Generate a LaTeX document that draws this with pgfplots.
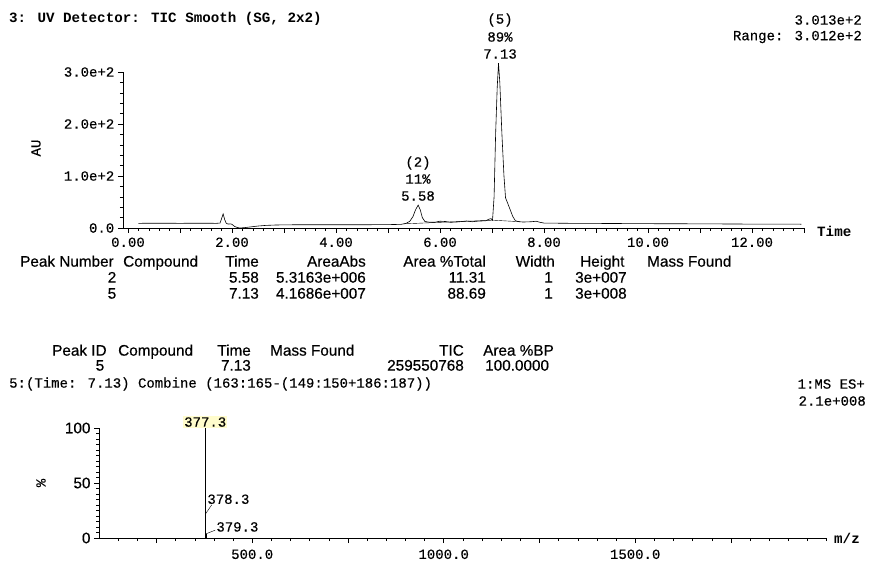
\documentclass[border=0pt]{standalone}
\usepackage{pgfplots}
\pgfplotsset{compat=1.18}
\usepackage{fontspec}
\setmainfont{Liberation Sans}
\newfontfamily\cour{Liberation Mono}[FakeBold=0.3]
\newfontfamily\courb{Liberation Mono Bold}
\newfontfamily\tfam{Liberation Sans}[FakeBold=0.4]
\newcommand{\cf}{\cour\fontsize{14}{16}\selectfont}
\newcommand{\cfb}{\courb\fontsize{14.2}{17}\selectfont}
\newcommand{\tf}{\tfam\fontsize{15.3}{17}\selectfont}
\newcommand{\T}[3]{\node[anchor=#1,inner sep=0pt,font=\tf] at #2 {#3};}
\newcommand{\C}[3]{\node[anchor=#1,inner sep=0pt,font=\cf] at #2 {#3};}
\begin{document}
\begin{tikzpicture}[x=1pt,y=1pt]
\path[use as bounding box] (0,0) rectangle (883,560);
% ---------------- UV chromatogram ----------------
\begin{axis}[
  at={(122.8pt,332pt)}, anchor=south west,
  width=681.2pt, height=156pt, scale only axis,
  xmin=-0.1, xmax=13, ymin=0, ymax=300,
  axis x line=bottom, axis y line=left,
  axis line style={-, line width=0.6pt},
  clip=false,
  xtick={0,1,...,13},
  xticklabels={0.00,,2.00,,4.00,,6.00,,8.00,,10.00,,12.00,},
  minor xtick={0,0.2,...,13},
  ytick={0,100,200,300},
  yticklabels={0.0,1.0e+2,2.0e+2,3.0e+2},
  minor ytick={20,40,...,280},
  tick align=outside,
  major tick length=5pt, minor tick length=3pt,
  every tick/.style={black, line width=0.5pt},
  ticklabel style={font=\cf},
  xticklabel style={yshift=-1pt},
]
\addplot[black, line width=0.6pt] coordinates {
(0.20,9) (0.6,9.2) (1.0,9.0) (1.4,9.2) (1.70,9.0) (1.77,9.5) (1.80,18) (1.83,27)
(1.86,16) (1.89,9) (1.93,7.5) (1.97,8) (2.00,7) (2.05,3) (2.10,1) (2.15,0)
(2.25,0.8) (2.35,2) (2.50,3.8) (2.65,5) (2.85,5.8) (3.2,6.2) (4.0,6.2) (4.6,6.3)
(5.0,6.5) (5.25,7) (5.35,9) (5.42,13) (5.48,22) (5.53,35) (5.58,44) (5.62,35)
(5.66,20) (5.71,12.5) (5.80,11) (5.90,11) (6.00,13) (6.10,12.5) (6.20,11) (6.32,11.5)
(6.42,12.5) (6.51,13.5) (6.62,12) (6.70,13) (6.80,13.5) (6.88,14) (6.94,17) (6.98,18)
(7.01,15) (7.04,60) (7.07,182) (7.10,270) (7.125,317) (7.15,280) (7.19,182) (7.23,100)
(7.26,58) (7.30,48) (7.35,35) (7.40,22) (7.45,14) (7.52,12) (7.60,11.5) (7.75,12)
(7.85,13) (7.92,11) (8.0,9.5) (8.5,9) (9.0,8.8) (10.0,8.3) (11.0,8) (12.0,7.5) (12.95,7.3)
};
\addplot[black, line width=0.4pt] coordinates {(5.30,8) (7.02,15) (7.55,12)};
\end{axis}
% texts of the top part
\node[anchor=west,inner sep=0pt,font=\cfb] at (9,541) {3: UV Detector: TIC Smooth (SG, 2x2)};
\C{east}{(862,540)}{3.013e+2}
\C{east}{(862,523)}{Range: 3.012e+2}
\C{center}{(500,540)}{(5)}
\C{center}{(500,523)}{89\%}
\C{center}{(500,506)}{7.13}
\C{center}{(418,397)}{(2)}
\C{center}{(418,381)}{11\%}
\C{center}{(418,364)}{5.58}
\node[anchor=west,inner sep=0pt,font=\cfb] at (817,329) {Time};
\node[rotate=90,inner sep=0pt,font=\cf] at (36,412) {AU};
% table 1
\T{mid west}{(20,296)}{Peak Number}
\T{mid west}{(123,296)}{Compound}
\T{mid east}{(259,296)}{Time}
\T{mid east}{(366,296)}{AreaAbs}
\T{mid east}{(486,296)}{Area \%Total}
\T{mid east}{(555,296)}{Width}
\T{mid west}{(580,296)}{Height}
\T{mid west}{(647,296)}{Mass Found}
\T{mid}{(112,280)}{2}
\T{mid east}{(259,280)}{5.58}
\T{mid east}{(366,280)}{5.3163e+006}
\T{mid east}{(486,280)}{11.31}
\T{mid east}{(553,280)}{1}
\T{mid west}{(575,280)}{3e+007}
\T{mid}{(112,264)}{5}
\T{mid east}{(259,264)}{7.13}
\T{mid east}{(366,264)}{4.1686e+007}
\T{mid east}{(486,264)}{88.69}
\T{mid east}{(553,264)}{1}
\T{mid west}{(575,264)}{3e+008}
% table 2
\T{mid west}{(52,207)}{Peak ID}
\T{mid west}{(118,207)}{Compound}
\T{mid east}{(251,207)}{Time}
\T{mid west}{(270,207)}{Mass Found}
\T{mid east}{(464,207)}{TIC}
\T{mid west}{(483,207)}{Area \%BP}
\T{mid}{(100,192)}{5}
\T{mid east}{(251,192)}{7.13}
\T{mid east}{(464,192)}{259550768}
\T{mid west}{(485,192)}{100.0000}
\C{west}{(9,176)}{5:(Time: 7.13) Combine (163:165-(149:150+186:187))}
\C{east}{(865,176)}{1:MS ES+}
\C{east}{(866,159)}{2.1e+008}
% ---------------- MS spectrum ----------------
\begin{axis}[
  at={(99pt,22pt)}, anchor=south west,
  width=727.7pt, height=110pt, scale only axis,
  xmin=100, xmax=2000, ymin=0, ymax=100,
  axis x line=bottom, axis y line=left,
  axis line style={-, line width=0.6pt},
  clip=false,
  xtick={250,500,...,1750},
  xticklabels={,500.0,,1000.0,,1500.0,},
  minor xtick={150,200,...,2000},
  ytick={0,50,100}, yticklabels={0,50,100},
  minor ytick={5,10,...,95},
  tick align=outside,
  major tick length=5pt, minor tick length=3pt,
  every tick/.style={black, line width=0.5pt},
  xticklabel style={font=\cf, yshift=-3pt},
  yticklabel style={font=\tf},
]
\addplot[ycomb, black, line width=0.8pt] coordinates {(377.3,100) (378.3,21.5) (379.3,3.5)};
\node[anchor=south, inner sep=1pt, fill=yellow!20, font=\cf] at (axis cs:377.3,100) {377.3};
\draw[line width=0.4pt] (axis cs:377.3,21.5) -- ++(6.5pt,9.5pt);
\node[anchor=base west, inner sep=0pt, font=\cf, xshift=2pt, yshift=10.5pt] at (axis cs:377.3,21.5) {378.3};
\draw[line width=0.4pt] (axis cs:377.3,3.5) -- ++(10pt,4pt);
\node[anchor=base west, inner sep=0pt, font=\cf, xshift=11pt, yshift=2.6pt] at (axis cs:377.3,3.5) {379.3};
\end{axis}
\node[anchor=west,inner sep=0pt,font=\cfb] at (834,22) {m/z};
\node[rotate=90,inner sep=0pt,font=\cf] at (41,77) {\%};
\end{tikzpicture}
\end{document}
